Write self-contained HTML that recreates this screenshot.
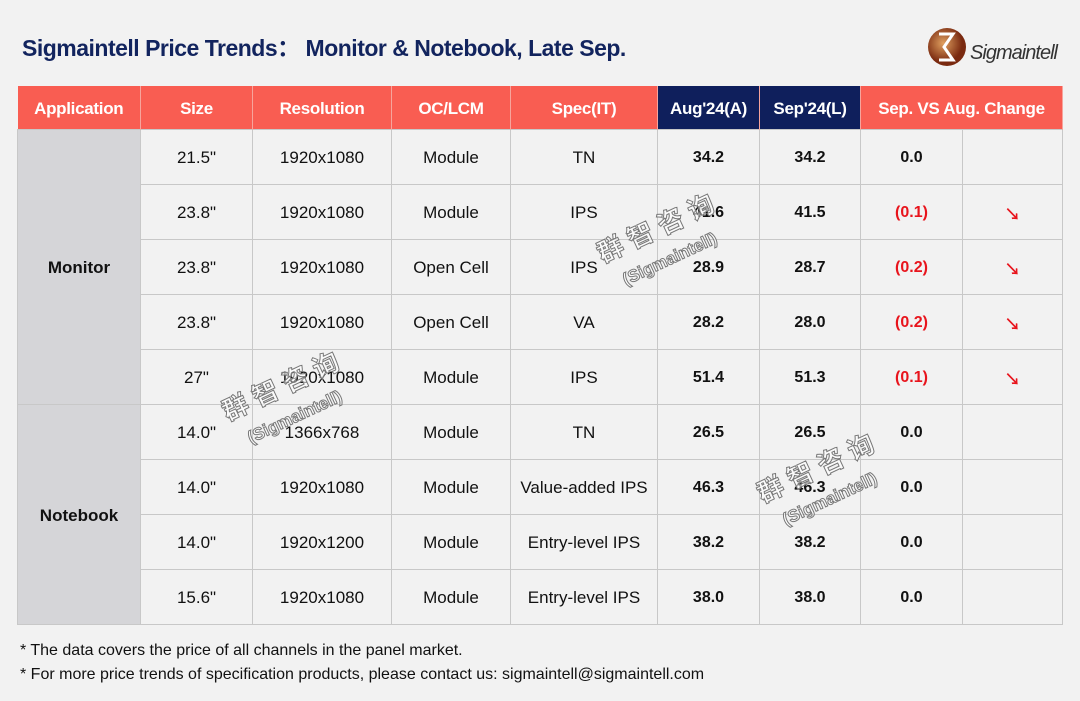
<!DOCTYPE html>
<html><head><meta charset="utf-8"><style>
body{margin:0;width:1080px;height:701px;background:#f2f2f2;font-family:"Liberation Sans","Noto Sans CJK SC",sans-serif;position:relative;overflow:hidden}
.t{position:absolute;left:22px;top:29px;font-size:23px;font-weight:bold;color:#12245e;letter-spacing:-0.5px}
table{position:absolute;left:17px;top:86px;border-collapse:collapse;table-layout:fixed}
th{height:43px;background:#f95d52;color:#fff;font-size:17px;font-weight:bold;padding:3px 0 0;border-right:1px solid #f7a49c;letter-spacing:-0.3px;box-sizing:border-box}
th.n{background:#0f1f5c}
td{height:55px;border:1px solid #c8c8c8;text-align:center;font-size:17px;color:#111;padding:3px 0 0;box-sizing:border-box}
td.a{background:#d5d5d8;font-weight:bold;border-color:#c8c8c8}
td.b{font-weight:bold;font-size:16px}
td.r{color:#e8141c;font-weight:bold;font-size:16px}
.ar{color:#e8141c;font-weight:bold;font-size:16px}
.f{position:absolute;left:20px;font-size:16px;color:#111}
.wm{position:absolute;color:rgba(255,255,255,0.6);font-weight:bold;font-size:26px;transform:rotate(-25deg);-webkit-text-stroke:1px #777;text-align:center;line-height:34px}
.wm small{font-size:17px;display:block}
</style></head><body>
<div class="t">Sigmaintell Price Trends：&nbsp;Monitor &amp; Notebook, Late Sep.</div>
<svg style="position:absolute;left:925px;top:24px" width="140" height="46"><defs><radialGradient id="g" cx="40%" cy="40%"><stop offset="0" stop-color="#e0a060"/><stop offset="1" stop-color="#7a2a10"/></radialGradient></defs><circle cx="22" cy="23" r="19" fill="url(#g)"/><path d="M14 10h14l-9 13 9 13H14" fill="none" stroke="#fff" stroke-width="3"/><text x="45" y="35" font-size="20" font-style="italic" fill="#333" font-family="Liberation Sans" textLength="88">Sigmaintell</text></svg>
<table>
<colgroup><col style="width:123px"><col style="width:112px"><col style="width:139px"><col style="width:119px"><col style="width:147px"><col style="width:102px"><col style="width:101px"><col style="width:102px"><col style="width:100px"></colgroup>
<tr><th>Application</th><th>Size</th><th>Resolution</th><th>OC/LCM</th><th>Spec(IT)</th><th class="n">Aug'24(A)</th><th class="n">Sep'24(L)</th><th colspan="2">Sep. VS Aug. Change</th></tr>
<tr><td class="a" rowspan="5">Monitor</td><td>21.5"</td><td>1920x1080</td><td>Module</td><td>TN</td><td class="b">34.2</td><td class="b">34.2</td><td class="b">0.0</td><td></td></tr>
<tr><td>23.8"</td><td>1920x1080</td><td>Module</td><td>IPS</td><td class="b">41.6</td><td class="b">41.5</td><td class="r">(0.1)</td><td class="ar">↘</td></tr>
<tr><td>23.8"</td><td>1920x1080</td><td>Open Cell</td><td>IPS</td><td class="b">28.9</td><td class="b">28.7</td><td class="r">(0.2)</td><td class="ar">↘</td></tr>
<tr><td>23.8"</td><td>1920x1080</td><td>Open Cell</td><td>VA</td><td class="b">28.2</td><td class="b">28.0</td><td class="r">(0.2)</td><td class="ar">↘</td></tr>
<tr><td>27"</td><td>1920x1080</td><td>Module</td><td>IPS</td><td class="b">51.4</td><td class="b">51.3</td><td class="r">(0.1)</td><td class="ar">↘</td></tr>
<tr><td class="a" rowspan="4">Notebook</td><td>14.0"</td><td>1366x768</td><td>Module</td><td>TN</td><td class="b">26.5</td><td class="b">26.5</td><td class="b">0.0</td><td></td></tr>
<tr><td>14.0"</td><td>1920x1080</td><td>Module</td><td>Value-added IPS</td><td class="b">46.3</td><td class="b">46.3</td><td class="b">0.0</td><td></td></tr>
<tr><td>14.0"</td><td>1920x1200</td><td>Module</td><td>Entry-level IPS</td><td class="b">38.2</td><td class="b">38.2</td><td class="b">0.0</td><td></td></tr>
<tr><td>15.6"</td><td>1920x1080</td><td>Module</td><td>Entry-level IPS</td><td class="b">38.0</td><td class="b">38.0</td><td class="b">0.0</td><td></td></tr>
</table>
<div class="wm" style="left:600px;top:210px">群 智 咨 询<small>(Sigmaintell)</small></div>
<div class="wm" style="left:225px;top:368px">群 智 咨 询<small>(Sigmaintell)</small></div>
<div class="wm" style="left:760px;top:450px">群 智 咨 询<small>(Sigmaintell)</small></div>
<div class="f" style="top:642px">* The data covers the price of all channels in the panel market.</div>
<div class="f" style="top:666px">* For more price trends of specification products, please contact us: sigmaintell@sigmaintell.com</div>
</body></html>
